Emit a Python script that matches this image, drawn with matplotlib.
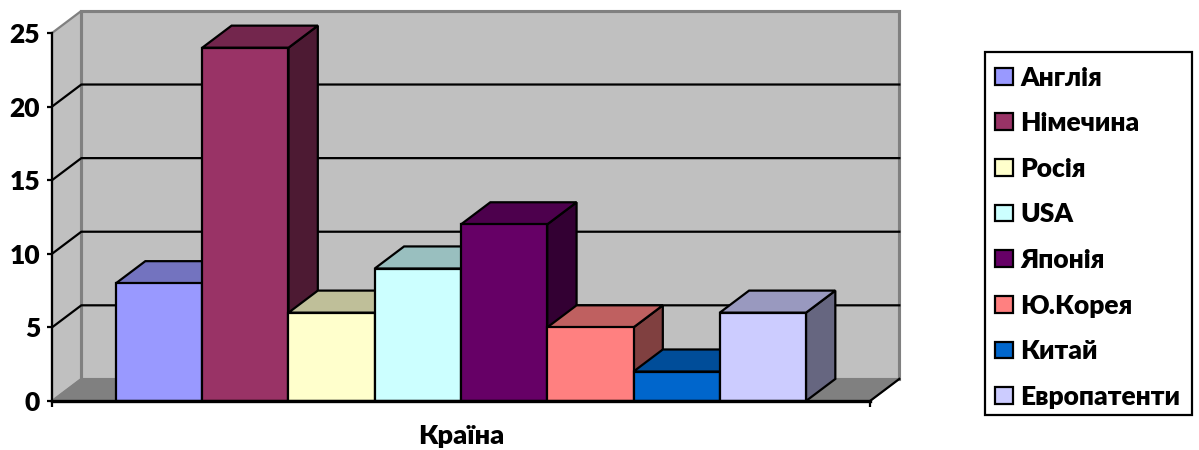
import matplotlib
matplotlib.use('Agg')
import matplotlib.pyplot as plt
from matplotlib.colors import to_rgb
from matplotlib.patches import Patch, Rectangle

plt.rcParams['font.family'] = ['Lato', 'Noto Sans']
plt.rcParams['font.weight'] = 'heavy'

countries = ['Англія', 'Німечина', 'Росія', 'USA', 'Японія', 'Ю.Корея', 'Китай', 'Европатенти']
patents = [8, 24, 6, 9, 12, 5, 2, 6]
colors = ['#9999FF', '#993366', '#FFFFCC', '#CCFFFF', '#660066', '#FF8080', '#0066CC', '#CCCCFF']
y_ticks = [0, 5, 10, 15, 20, 25]
x_label = 'Країна'

# x is measured in bar widths, y in patents
axis_len = 9.484
first_bar = 0.742
depth_x = 0.34
depth_y = 1.5
y_max = 25
edge_w = 1.6


def shade(color, k):
    return tuple(c * k for c in to_rgb(color))


fig = plt.figure(figsize=(11.99, 4.5), dpi=100)
ax = fig.add_axes([52 / 1199, 49 / 450, 818 / 1199, 368 / 450])
ax.set_xlim(0, axis_len)
ax.set_ylim(0, y_max)
ax.patch.set_visible(False)

# walls and floor of the 3D box
wall_edge = '#808080'
ax.fill([0, depth_x, depth_x, 0], [0, depth_y, y_max + depth_y, y_max],
        fc='#C0C0C0', ec=wall_edge, lw=edge_w, clip_on=False, zorder=1)
ax.fill([depth_x, axis_len + depth_x, axis_len + depth_x, depth_x],
        [depth_y, depth_y, y_max + depth_y, y_max + depth_y],
        fc='#C0C0C0', ec=wall_edge, lw=edge_w * 1.4, clip_on=False, zorder=1)
ax.fill([0, axis_len, axis_len + depth_x, depth_x], [0, 0, depth_y, depth_y],
        fc='#808080', ec=wall_edge, lw=1, clip_on=False, zorder=1)
ax.plot([axis_len, axis_len + depth_x], [0, depth_y], color='black', lw=edge_w,
        clip_on=False, zorder=1.2)

# gridlines run across the side wall and the back wall
for v in y_ticks[1:-1]:
    ax.plot([0, depth_x, axis_len + depth_x], [v, v + depth_y, v + depth_y],
            color='black', lw=edge_w, clip_on=False, zorder=1.5)

for i, (value, color) in enumerate(zip(patents, colors)):
    left = first_bar + i
    right = left + 1
    z = 3 + i * 0.1
    ax.fill([right, right + depth_x, right + depth_x, right],
            [0, depth_y, value + depth_y, value],
            fc=shade(color, 0.5), ec='black', lw=edge_w, clip_on=False, zorder=z)
    ax.fill([left, right, right + depth_x, left + depth_x],
            [value, value, value + depth_y, value + depth_y],
            fc=shade(color, 0.75), ec='black', lw=edge_w, clip_on=False, zorder=z)
    ax.bar(left, value, width=1, align='edge', color=color, edgecolor='black',
           linewidth=edge_w, clip_on=False, zorder=z + 0.05)

for side in ['top', 'right']:
    ax.spines[side].set_visible(False)
ax.spines['left'].set_linewidth(edge_w)
ax.spines['bottom'].set_linewidth(2.4)
ax.spines['bottom'].set_zorder(5)
ax.spines['left'].set_zorder(5)

ax.set_yticks(y_ticks)
ax.set_xticks([0, axis_len])
ax.set_xticklabels(['', ''])
ax.tick_params(axis='y', length=3.5, width=edge_w, labelsize=19, pad=5)
ax.tick_params(axis='x', length=4, width=edge_w)
ax.set_xlabel(x_label, fontsize=19.5, fontweight='heavy', labelpad=9)

# legend box is drawn on its own so its padding can differ top and bottom
fig.add_artist(Rectangle((985 / 1199, 35 / 450), 207 / 1199, 363 / 450, transform=fig.transFigure,
                         fc='white', ec='black', lw=edge_w, zorder=-1))
handles = [Patch(facecolor=c, edgecolor='black', linewidth=edge_w) for c in colors]
legend = ax.legend(handles, countries, loc='upper left',
                   bbox_to_anchor=(994.5 / 1199, 384.5 / 450), bbox_transform=fig.transFigure,
                   fontsize=19, frameon=False,
                   handlelength=0.69, handleheight=0.6, handletextpad=0.3, labelspacing=0.82,
                   borderpad=0, borderaxespad=0)
legend.set_zorder(6)

fig.savefig('out.png', dpi=100)
